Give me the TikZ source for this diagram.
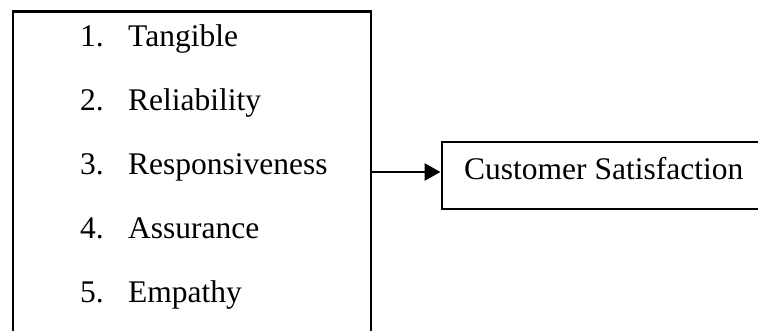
\documentclass[tikz,border=0pt]{standalone}
\usepackage{fontspec}
\setmainfont{Liberation Serif}
\usetikzlibrary{arrows.meta}
\begin{document}
\begin{tikzpicture}[x=1pt,y=-1pt,
  box/.style={draw=black,line width=2.2pt,minimum width=0pt,minimum height=0pt,inner sep=0pt},
  txt/.style={font=\fontsize{31.5}{38}\selectfont,inner sep=0pt,anchor=base west},
  conn/.style={draw=black,line width=2.8pt,-{Triangle[length=16pt,width=17pt]}}]
\clip (0,0) rectangle (758,331);
\useasboundingbox (0,0) rectangle (758,331);
% left box
\node[box,minimum width=358pt,minimum height=330pt,anchor=north west] (factors) at (12,10.5) {};
% right box
\node[box,minimum width=330pt,minimum height=67pt,anchor=north west] (cs) at (440.5,140.8) {};
% list
\node[txt] (n1) at (80,47) {1.};
\node[txt] (t1) at (128,47) {Tangible};
\node[txt] (n2) at (80,110.75) {2.};
\node[txt] (t2) at (128,110.75) {Reliability};
\node[txt] (n3) at (80,174.5) {3.};
\node[txt] (t3) at (128,174.5) {Responsiveness};
\node[txt] (n4) at (80,238.25) {4.};
\node[txt] (t4) at (128,238.25) {Assurance};
\node[txt] (n5) at (80,302) {5.};
\node[txt] (t5) at (128,302) {Empathy};
\node[txt] (cstext) at (464,180) {Customer Satisfaction};
\draw[conn] (factors.east |- 0,172) -- (cs.west |- 0,172);
\end{tikzpicture}
\end{document}
